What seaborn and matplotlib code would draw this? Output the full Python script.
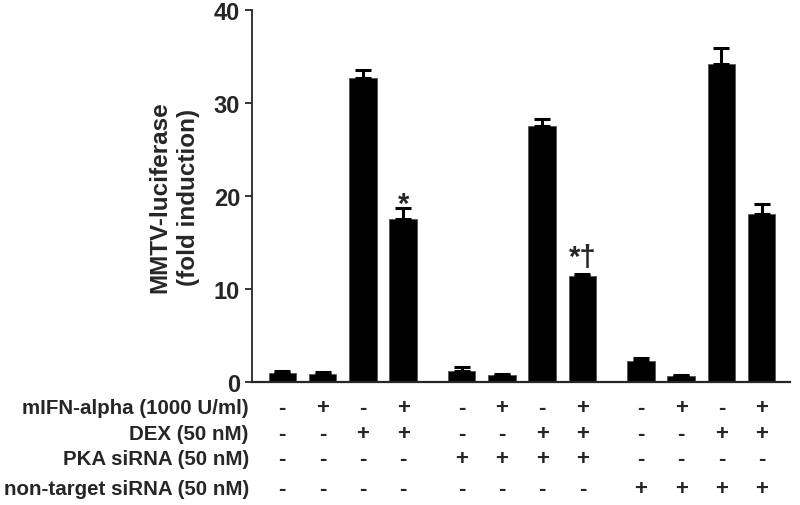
import matplotlib
matplotlib.use("Agg")
import matplotlib.pyplot as plt
import matplotlib.transforms as mtransforms
import seaborn as sns
import pandas as pd

## DATA
groups = [0, 0, 0, 0, 1, 1, 1, 1, 2, 2, 2, 2]
values = [1.0, 0.9, 32.7, 17.5, 1.25, 0.75, 27.5, 11.4, 2.25, 0.7, 34.2, 18.1]
errors = [0.22, 0.2, 0.85, 1.2, 0.35, 0.1, 0.85, 0.25, 0.4, 0.1, 1.7, 1.1]
marks = ["", "", "", "*", "", "", "", "*†", "", "", "", ""]

row_labels = ["mIFN-alpha (1000 U/ml)", "DEX (50 nM)", "PKA siRNA (50 nM)",
              "non-target siRNA (50 nM)"]
ifn = ["-", "+", "-", "+", "-", "+", "-", "+", "-", "+", "-", "+"]
dex = ["-", "-", "+", "+", "-", "-", "+", "+", "-", "-", "+", "+"]
pka = ["-", "-", "-", "-", "+", "+", "+", "+", "-", "-", "-", "-"]
nontarget = ["-", "-", "-", "-", "-", "-", "-", "-", "+", "+", "+", "+"]
rows = [ifn, dex, pka, nontarget]

## POSITIONS (bars 1 apart, extra gap between groups)
pos = [g * 4.45 + (i % 4) for i, g in enumerate(groups)]
df = pd.DataFrame({"pos": pos, "value": values, "err": errors})

sns.set_style("ticks")
plt.rcParams["font.family"] = ["Liberation Sans", "DejaVu Sans"]
plt.rcParams["font.weight"] = "bold"

fig = plt.figure(figsize=(8, 5.06), dpi=100)
ax = fig.add_axes([0.315, 0.2425, 0.6725, 0.7355])

sns.barplot(data=df, x="pos", y="value", native_scale=True, width=0.68,
            color="black", saturation=1, edgecolor="#555555", linewidth=0.6,
            errorbar=None, ax=ax, zorder=2)
ax.errorbar(df["pos"], df["value"], yerr=[[0] * len(values), df["err"]],
            fmt="none", ecolor="black", elinewidth=2.2, capsize=6,
            capthick=2.2, zorder=3)

# the plain asterisk sits high in the font, the dagger reaches lower
nudge = {"*": -1.05, "*†": 0.35}
for x, v, e, m in zip(pos, values, errors, marks):
    if m:
        ax.text(x, v + e + nudge[m], m, ha="center", va="bottom",
                fontsize=21, fontweight="bold")

ax.set_xlim(-0.75, 12.6)
ax.set_ylim(0, 40)
ax.set_yticks([0, 10, 20, 30, 40])
ax.set_xticks([])
ax.set_xlabel("")
ax.set_ylabel("MMTV-luciferase\n(fold induction)", fontsize=17.5,
              fontweight="bold", labelpad=10, linespacing=1.3)
ax.tick_params(axis="y", labelsize=17, length=5, width=1.3, direction="out")
for lab in ax.get_yticklabels():
    lab.set_fontweight("bold")
sns.despine(ax=ax)
ax.spines["left"].set_linewidth(1.3)
ax.spines["bottom"].set_linewidth(1.6)

## TREATMENT TABLE
trans = mtransforms.blended_transform_factory(ax.transData, fig.transFigure)
row_y = [0.193, 0.142, 0.091, 0.032]
for label, signs, y in zip(row_labels, rows, row_y):
    fig.text(0.311, y, label, ha="right", va="center", fontsize=14.8,
             fontweight="bold")
    for x, s in zip(pos, signs):
        ax.text(x, y, s, transform=trans, ha="center", va="center",
                fontsize=16, fontweight="bold", clip_on=False)

fig.savefig("out.png", dpi=100)
